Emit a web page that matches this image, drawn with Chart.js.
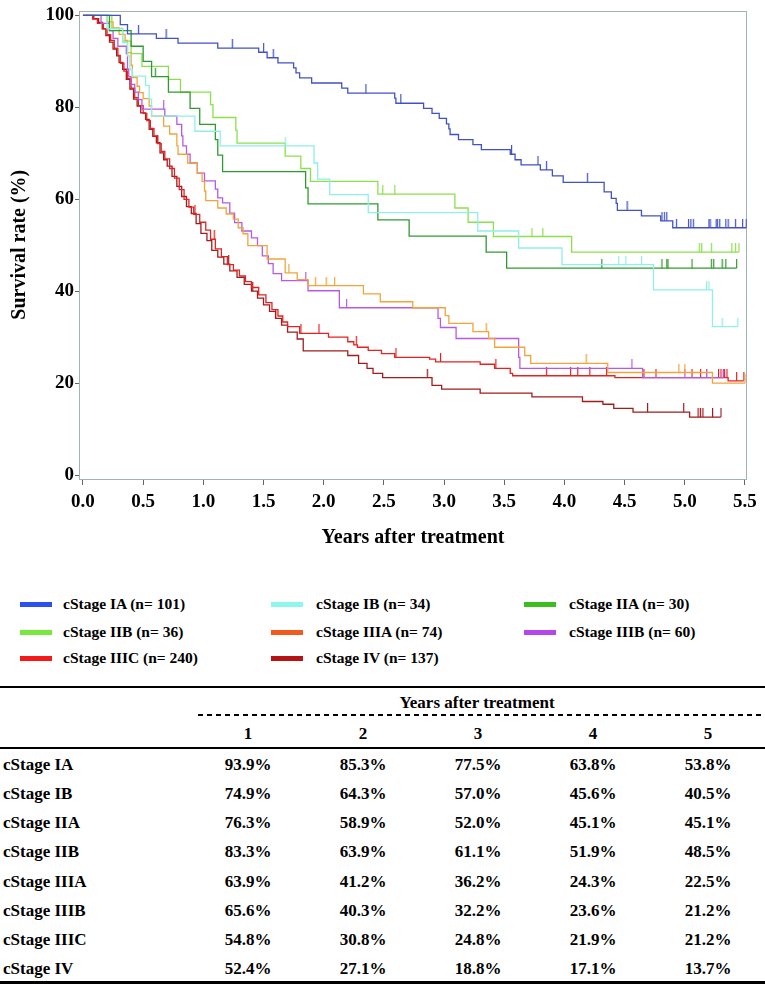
<!DOCTYPE html>
<html>
<head>
<meta charset="utf-8">
<title>Survival by clinical stage</title>
<script src="https://cdn.jsdelivr.net/npm/chart.js@4.4.1/dist/chart.umd.min.js"></script>
<style>
  html, body { margin: 0; padding: 0; background: #fff; }
  body {
    position: relative; width: 765px; height: 984px; overflow: hidden;
    font-family: "Liberation Serif", "Times New Roman", serif; font-weight: bold; color: #000;
  }
  #km { position: absolute; left: 0; top: 0; }
  .sw { position: absolute; width: 32px; height: 5px; }
  .lg { position: absolute; font-size: 15.5px; line-height: 18px; white-space: nowrap; }
  .cell { position: absolute; font-size: 17px; line-height: 20px; white-space: nowrap; }
  .mid { width: 110px; text-align: center; }
  .rule { position: absolute; left: 0; width: 765px; background: #000; }
  .dash {
    position: absolute; left: 198px; width: 567px; height: 1.5px;
    background: repeating-linear-gradient(to right, #000 0 5px, transparent 5px 9px);
  }
</style>
</head>
<body>
<canvas id="km" width="765" height="560"></canvas>
<div id="legend"></div>
<div id="table"></div>
<script>
// ============= Survival curves by clinical stage =============

const xTickVals = [0, 0.5, 1, 1.5, 2, 2.5, 3, 3.5, 4, 4.5, 5, 5.5];
const yTickVals = [0, 20, 40, 60, 80, 100];

const stageNames = ['cStage IA', 'cStage IB', 'cStage IIA', 'cStage IIB', 'cStage IIIA', 'cStage IIIB', 'cStage IIIC', 'cStage IV'];
const stageN = [101, 34, 30, 36, 74, 60, 240, 137];
const lineColors = ['#4152c6', '#8ef0e6', '#2f9a2f', '#8ce04c', '#f2a43a', '#b65ae6', '#e52222', '#a11d1d'];
const keyColors = ['#2b50f0', '#8cf8ec', '#3cbe1e', '#78e83c', '#f05a1e', '#b446ea', '#f41a1a', '#b41414'];

// event times (years) / survival (%) after each step / censor times
const iaT = [0, 0.31, 0.37, 0.61, 0.79, 1.12, 1.46, 1.53, 1.62, 1.75, 1.77, 1.80, 1.90, 2.15, 2.20, 2.59, 2.60, 2.83, 2.90, 2.96, 3.02, 3.04, 3.05, 3.12, 3.24, 3.31, 3.55, 3.59, 3.64, 3.80, 3.90, 3.99, 4.33, 4.39, 4.43, 4.44, 4.64, 4.80, 4.90];
const iaS = [100, 98.0, 96.0, 95.0, 94.0, 92.9, 92.0, 90.8, 89.7, 88.6, 87.5, 86.4, 85.3, 84.2, 83.1, 82.0, 80.9, 79.8, 78.7, 77.6, 76.4, 75.3, 74.1, 73.0, 71.9, 70.8, 69.8, 68.6, 67.5, 66.4, 65.1, 63.7, 61.6, 60.2, 59.1, 57.6, 56.4, 55.3, 53.8];
const iaC = [0.46, 0.69, 1.24, 1.50, 1.58, 2.35, 2.64, 3.56, 3.78, 3.85, 4.19, 4.52, 4.81, 4.83, 4.85, 4.93, 5.03, 5.05, 5.07, 5.20, 5.21, 5.26, 5.27, 5.29, 5.34, 5.36, 5.42, 5.48, 5.51];

const ibT = [0, 0.20, 0.33, 0.37, 0.39, 0.41, 0.52, 0.55, 0.57, 0.93, 1.14, 1.92, 1.95, 2.05, 2.37, 3.28, 3.62, 3.98, 4.74, 5.23];
const ibS = [100, 97.1, 94.1, 91.2, 88.2, 86.8, 84.8, 81.8, 78.1, 74.8, 71.6, 67.9, 64.4, 61.0, 57.1, 53.1, 49.4, 45.8, 40.3, 32.3];
const ibC = [1.68, 4.45, 4.51, 4.64, 5.18, 5.20, 5.31, 5.44];

const iiaT = [0, 0.22, 0.40, 0.50, 0.57, 0.71, 0.89, 0.97, 1.10, 1.12, 1.16, 1.85, 1.87, 2.45, 2.71, 3.35, 3.52];
const iiaS = [100, 96.7, 93.3, 90.0, 86.7, 83.3, 79.8, 76.3, 73.0, 69.6, 66.0, 62.5, 59.0, 55.5, 52.0, 48.5, 45.0];
const iiaC = [0.60, 4.31, 4.81, 4.85, 4.86, 5.06, 5.22, 5.24, 5.31, 5.34, 5.43];

const iibT = [0, 0.24, 0.33, 0.40, 0.49, 0.71, 0.81, 1.06, 1.08, 1.27, 1.28, 1.68, 1.81, 1.89, 2.45, 3.09, 3.20, 3.41, 4.06];
const iibS = [100, 97.2, 94.4, 91.7, 88.9, 86.1, 83.3, 80.6, 77.8, 75.0, 72.2, 69.4, 66.7, 63.9, 61.1, 58.1, 55.0, 51.9, 48.5];
const iibC = [2.49, 2.59, 3.73, 3.82, 5.12, 5.14, 5.22, 5.39, 5.42, 5.45];

const iiiaT = [0, 0.20, 0.25, 0.30, 0.35, 0.37, 0.40, 0.41, 0.45, 0.47, 0.50, 0.55, 0.57, 0.67, 0.72, 0.78, 0.79, 0.87, 0.95, 0.99, 1.01, 1.02, 1.12, 1.19, 1.25, 1.29, 1.33, 1.37, 1.53, 1.68, 1.78, 1.87, 2.33, 2.47, 2.74, 3.01, 3.04, 3.24, 3.37, 3.42, 3.67, 3.72, 4.36, 5.23];
const iiiaS = [100, 98.6, 97.3, 95.9, 94.6, 91.9, 89.2, 86.5, 84.6, 83.2, 81.9, 80.3, 78.1, 75.9, 74.2, 71.6, 69.8, 67.9, 65.7, 63.9, 61.8, 59.7, 58.1, 56.8, 55.7, 53.8, 52.5, 49.9, 47.0, 44.0, 42.5, 41.2, 39.4, 37.7, 36.4, 34.7, 33.0, 31.2, 29.7, 27.8, 26.0, 24.3, 22.3, 20.0];
const iiiaC = [1.71, 1.93, 2.02, 2.09, 3.35, 4.18, 4.95, 5.00, 5.50];

const iiibT = [0, 0.15, 0.22, 0.25, 0.29, 0.36, 0.37, 0.38, 0.40, 0.43, 0.46, 0.49, 0.68, 0.78, 0.82, 0.83, 0.86, 0.89, 0.95, 1.01, 1.10, 1.12, 1.16, 1.22, 1.26, 1.32, 1.40, 1.45, 1.49, 1.54, 1.58, 1.65, 1.87, 2.13, 2.95, 2.97, 3.10, 3.62, 3.63, 4.65];
const iiibS = [100, 98.3, 96.7, 95.0, 93.3, 91.7, 88.3, 86.7, 85.0, 83.3, 81.7, 79.6, 78.1, 76.3, 73.8, 71.6, 69.8, 67.9, 65.7, 64.0, 62.2, 60.3, 59.2, 57.0, 54.9, 53.1, 51.6, 49.9, 47.7, 46.0, 43.8, 42.3, 40.1, 36.4, 34.1, 32.1, 29.7, 25.6, 23.2, 21.2];
const iiibC = [0.67, 1.85, 2.19, 4.56, 5.00, 5.18, 5.32];

const iiicT = [0, 0.08, 0.12, 0.17, 0.20, 0.23, 0.26, 0.29, 0.31, 0.34, 0.37, 0.40, 0.43, 0.46, 0.50, 0.53, 0.56, 0.59, 0.62, 0.65, 0.68, 0.72, 0.76, 0.80, 0.84, 0.88, 0.92, 0.97, 1.02, 1.06, 1.10, 1.15, 1.20, 1.25, 1.30, 1.35, 1.40, 1.46, 1.52, 1.57, 1.62, 1.66, 1.70, 1.80, 2.04, 2.20, 2.25, 2.28, 2.37, 2.48, 2.59, 2.88, 2.93, 3.30, 3.42, 3.55, 3.57, 4.42, 5.36];
const iiicS = [100, 99.2, 98.3, 97.1, 95.8, 94.6, 92.9, 91.3, 89.6, 87.9, 86.3, 84.2, 82.1, 80.4, 78.7, 77.1, 75.4, 73.8, 72.1, 70.4, 68.8, 66.7, 64.6, 62.1, 60.0, 58.3, 56.7, 55.0, 53.3, 51.3, 49.2, 47.5, 45.8, 44.6, 43.3, 42.1, 40.8, 39.2, 37.5, 36.0, 34.6, 33.3, 32.3, 30.8, 30.0, 29.0, 28.3, 27.8, 27.1, 26.4, 25.6, 25.2, 24.6, 24.1, 23.2, 22.1, 21.6, 21.2, 20.5];
const iiicC = [0.62, 0.93, 1.09, 1.81, 1.96, 2.27, 2.60, 2.97, 3.43, 3.85, 4.05, 4.11, 4.21, 4.35, 4.66, 4.76, 5.06, 5.13, 5.18, 5.28, 5.30, 5.32, 5.33, 5.35, 5.43, 5.49];

const ivT = [0, 0.09, 0.13, 0.16, 0.19, 0.22, 0.25, 0.28, 0.30, 0.33, 0.36, 0.39, 0.42, 0.45, 0.48, 0.52, 0.55, 0.58, 0.61, 0.64, 0.67, 0.70, 0.74, 0.78, 0.82, 0.86, 0.90, 0.94, 0.98, 1.03, 1.07, 1.12, 1.17, 1.22, 1.28, 1.34, 1.40, 1.45, 1.50, 1.55, 1.60, 1.65, 1.70, 1.78, 1.83, 2.20, 2.29, 2.36, 2.41, 2.49, 2.90, 2.98, 3.30, 3.73, 4.15, 4.32, 4.41, 4.57, 5.04];
const ivS = [100, 99.3, 98.5, 97.1, 95.6, 94.2, 92.7, 91.2, 89.8, 88.3, 86.1, 84.0, 81.8, 80.3, 78.8, 77.4, 75.2, 73.7, 72.3, 70.1, 68.6, 67.2, 65.0, 62.8, 60.6, 58.4, 56.9, 54.7, 52.6, 51.0, 48.9, 47.4, 45.9, 44.4, 43.0, 41.5, 40.0, 38.5, 37.0, 35.6, 34.1, 32.6, 31.1, 29.6, 27.0, 26.0, 24.3, 23.2, 22.1, 21.2, 19.5, 18.7, 17.8, 17.0, 16.0, 15.4, 14.5, 13.7, 12.6];
const ivC = [1.21, 1.41, 1.60, 2.86, 4.69, 4.99, 5.11, 5.13, 5.15, 5.23, 5.30];

// table: survival at 1..5 years
const tableYears = ['1', '2', '3', '4', '5'];
const rateIA = [93.9, 85.3, 77.5, 63.8, 53.8];
const rateIB = [74.9, 64.3, 57.0, 45.6, 40.5];
const rateIIA = [76.3, 58.9, 52.0, 45.1, 45.1];
const rateIIB = [83.3, 63.9, 61.1, 51.9, 48.5];
const rateIIIA = [63.9, 41.2, 36.2, 24.3, 22.5];
const rateIIIB = [65.6, 40.3, 32.2, 23.6, 21.2];
const rateIIIC = [54.8, 30.8, 24.8, 21.9, 21.2];
const rateIV = [52.4, 27.1, 18.8, 17.1, 13.7];

// ---------------------------------------------

const serif = '"Liberation Serif", "Times New Roman", serif';
const frameColor = '#9fb3b3';

const curveTimes = [iaT, ibT, iiaT, iibT, iiiaT, iiibT, iiicT, ivT];
const curveSurv = [iaS, ibS, iiaS, iibS, iiiaS, iiibS, iiicS, ivS];
const curveCensor = [iaC, ibC, iiaC, iibC, iiiaC, iiibC, iiicC, ivC];
const tableRates = [rateIA, rateIB, rateIIA, rateIIB, rateIIIA, rateIIIB, rateIIIC, rateIV];

function survAt(times, surv, t) {
    let s = surv[0];
    for (let i = 0; i < times.length; i++) if (times[i] <= t) s = surv[i];
    return s;
}

// small upward tick used as the censoring marker
function tickMark(color) {
    const c = document.createElement('canvas');
    c.width = 3;
    c.height = 18;
    const g = c.getContext('2d');
    g.fillStyle = color;
    g.fillRect(1, 0, 1.2, 9);
    return c;
}

const datasets = [];
curveTimes.forEach((times, k) => {
    const surv = curveSurv[k];
    const censor = curveCensor[k];
    const pts = times.map((t, i) => ({ x: t, y: surv[i] }));
    const end = Math.max(times[times.length - 1], ...censor);
    pts.push({ x: end, y: surv[surv.length - 1] });

    datasets.push({
        label: stageNames[k],
        data: pts,
        stepped: true,
        borderColor: lineColors[k],
        borderWidth: 1.3,
        pointRadius: 0,
        fill: false
    });
    datasets.push({
        label: stageNames[k] + ' censored',
        data: censor.map(t => ({ x: t, y: survAt(times, surv, t) })),
        showLine: false,
        pointStyle: tickMark(lineColors[k]),
        pointRadius: 5
    });
});

const framePlugin = {
    id: 'frame',
    beforeDatasetsDraw(chart) {
        const { ctx, chartArea: a } = chart;
        ctx.save();
        ctx.strokeStyle = frameColor;
        ctx.lineWidth = 1;
        ctx.strokeRect(Math.round(a.left) + 0.5, Math.round(a.top) + 0.5,
            Math.round(a.right - a.left) - 1, Math.round(a.bottom - a.top) - 1);
        ctx.restore();
    }
};

const tickFont = { family: serif, size: 19, weight: 'bold', lineHeight: 1 };
const titleFont = { family: serif, size: 20, weight: 'bold', lineHeight: 1.2 };

new Chart(document.getElementById('km'), {
    type: 'line',
    data: { datasets },
    options: {
        responsive: false,
        animation: false,
        events: [],
        layout: { padding: { left: 8, top: 9, right: 18, bottom: 10 } },
        plugins: { legend: { display: false }, tooltip: { enabled: false } },
        scales: {
            x: {
                type: 'linear',
                min: -0.033,
                max: 5.517,
                afterBuildTicks: s => { s.ticks = xTickVals.map(v => ({ value: v })); },
                afterFit: s => { s.height = 71; },
                ticks: { font: tickFont, color: '#000', padding: 8, maxRotation: 0, autoSkip: false, callback: v => Number(v).toFixed(1) },
                grid: { display: true, drawOnChartArea: false, drawTicks: true, tickLength: 6, tickColor: '#666' },
                border: { display: false },
                title: { display: true, text: 'Years after treatment', font: titleFont, color: '#000', padding: 0 }
            },
            y: {
                type: 'linear',
                min: -0.87,
                max: 101.08,
                afterBuildTicks: s => { s.ticks = yTickVals.map(v => ({ value: v })); },
                afterFit: s => { s.width = 71; },
                ticks: { font: tickFont, color: '#000', padding: 1 },
                grid: { display: true, drawOnChartArea: false, drawTicks: true, tickLength: 4, tickColor: '#666' },
                border: { display: false },
                title: { display: true, text: 'Survival rate (%)', font: titleFont, color: '#000', padding: 0 }
            }
        }
    },
    plugins: [framePlugin]
});

// ---- legend (3 columns) ----
const legendCols = [20, 271, 524];
const legendTextCols = [63, 316, 569];
const legendRows = [604, 632, 658];
const legendEl = document.getElementById('legend');
legendEl.innerHTML = stageNames.map((name, k) => {
    const col = k % 3, row = Math.floor(k / 3);
    const y = legendRows[row];
    return `<div class="sw" style="left:${legendCols[col]}px;top:${y - 2.5}px;background:${keyColors[k]}"></div>` +
        `<div class="lg" style="left:${legendTextCols[col]}px;top:${y - 9}px">${name} (n= ${stageN[k]})</div>`;
}).join('');

// ---- table of survival rates ----
const colCenters = [248, 363, 478, 593, 708];
const rowCenters = [765, 794, 823, 852, 882, 911, 940, 969];
let html = '';
html += '<div class="rule" style="top:686px;height:2px"></div>';
html += `<div class="cell mid" style="left:${477 - 55}px;top:693px;width:200px;margin-left:-45px">Years after treatment</div>`;
html += '<div class="dash" style="top:714px"></div>';
tableYears.forEach((y, j) => {
    html += `<div class="cell mid" style="left:${colCenters[j] - 55}px;top:724px">${y}</div>`;
});
html += '<div class="rule" style="top:747px;height:1.5px"></div>';
stageNames.forEach((name, i) => {
    const top = rowCenters[i] - 10;
    html += `<div class="cell" style="left:3px;top:${top}px">${name}</div>`;
    tableRates[i].forEach((v, j) => {
        html += `<div class="cell mid" style="left:${colCenters[j] - 55}px;top:${top}px">${v.toFixed(1)}%</div>`;
    });
});
html += '<div class="rule" style="top:981px;height:3px"></div>';
document.getElementById('table').innerHTML = html;
</script>
</body>
</html>
